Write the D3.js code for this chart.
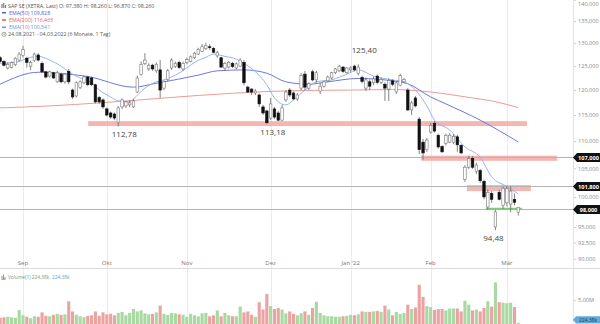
<!DOCTYPE html>
<html><head><meta charset="utf-8">
<script src="https://cdn.jsdelivr.net/npm/d3@7"></script>
<style>
html,body{margin:0;padding:0;background:#fff}
svg{display:block;font-family:"Open Sans","Liberation Sans",sans-serif}
</style></head>
<body><svg id="chart" width="600" height="324"></svg>
<script>
// ---------------- DATA ----------------
const dates = [
"2021-08-24","2021-08-25","2021-08-26","2021-08-27","2021-08-30","2021-08-31",
"2021-09-01","2021-09-02","2021-09-03","2021-09-06","2021-09-07","2021-09-08","2021-09-09","2021-09-10","2021-09-13","2021-09-14","2021-09-15","2021-09-16","2021-09-17","2021-09-20","2021-09-21","2021-09-22","2021-09-23","2021-09-24","2021-09-27","2021-09-28","2021-09-29","2021-09-30",
"2021-10-01","2021-10-04","2021-10-05","2021-10-06","2021-10-07","2021-10-08","2021-10-11","2021-10-12","2021-10-13","2021-10-14","2021-10-15","2021-10-18","2021-10-19","2021-10-20","2021-10-21","2021-10-22","2021-10-25","2021-10-26","2021-10-27","2021-10-28","2021-10-29",
"2021-11-01","2021-11-02","2021-11-03","2021-11-04","2021-11-05","2021-11-08","2021-11-09","2021-11-10","2021-11-11","2021-11-12","2021-11-15","2021-11-16","2021-11-17","2021-11-18","2021-11-19","2021-11-22","2021-11-23","2021-11-24","2021-11-25","2021-11-26","2021-11-29","2021-11-30",
"2021-12-01","2021-12-02","2021-12-03","2021-12-06","2021-12-07","2021-12-08","2021-12-09","2021-12-10","2021-12-13","2021-12-14","2021-12-15","2021-12-16","2021-12-17","2021-12-20","2021-12-21","2021-12-22","2021-12-23","2021-12-27","2021-12-28","2021-12-29","2021-12-30",
"2022-01-03","2022-01-04","2022-01-05","2022-01-06","2022-01-07","2022-01-10","2022-01-11","2022-01-12","2022-01-13","2022-01-14","2022-01-17","2022-01-18","2022-01-19","2022-01-20","2022-01-21","2022-01-24","2022-01-25","2022-01-26","2022-01-27","2022-01-28","2022-01-31",
"2022-02-01","2022-02-02","2022-02-03","2022-02-04","2022-02-07","2022-02-08","2022-02-09","2022-02-10","2022-02-11","2022-02-14","2022-02-15","2022-02-16","2022-02-17","2022-02-18","2022-02-21","2022-02-22","2022-02-23","2022-02-24","2022-02-25","2022-02-28",
"2022-03-01","2022-03-02","2022-03-03","2022-03-04"];

const open = [126.8,126.0,124.6,124.7,125.3,126.3,127.3,126.7,125.0,126.2,
127.4,125.6,123.8,122.9,123.6,121.7,123.3,121.7,123.9,120.0,
118.8,120.5,121.5,122.7,122.5,121.1,118.5,118.0,116.2,115.4,
115.2,113.6,116.6,116.8,117.0,116.6,119.6,123.2,125.6,124.4,
125.2,124.0,124.2,120.4,122.2,124.6,124.9,125.8,124.4,125.8,
126.0,126.8,127.6,128.2,128.8,129.2,128.8,127.2,126.8,124.6,
124.8,125.6,124.6,125.0,125.8,120.6,120.2,119.4,119.0,116.6,
115.8,114.4,116.2,115.4,114.0,118.0,120.0,119.4,118.2,120.4,
123.3,120.4,123.8,122.1,119.8,120.8,121.9,122.5,123.6,124.0,
124.8,123.6,124.2,125.0,123.5,122.6,120.4,121.7,121.5,122.9,
121.6,121.2,120.2,121.9,119.6,121.0,121.7,120.0,116.0,118.4,
114.2,109.8,108.4,111.7,113.4,111.1,109.0,109.6,109.8,109.8,
110.8,109.2,103.0,105.2,106.8,104.5,104.6,102.7,98.3,100.6,
95.0,100.8,98.6,99.0,98.8,99.6,97.38];
const high = [127.2,126.3,125.8,126.0,126.9,128.0,129.4,127.0,126.2,127.9,
127.8,126.0,124.0,124.0,123.8,124.0,123.6,123.5,124.4,120.3,
121.8,122.0,123.0,123.0,122.8,121.3,118.8,118.3,116.5,115.7,
115.5,116.8,118.3,117.8,118.0,118.2,123.0,126.0,127.8,125.6,
125.5,125.8,126.3,122.0,124.4,126.7,126.0,126.2,126.0,126.8,
127.3,128.1,129.0,129.8,130.1,129.8,129.1,128.3,127.0,125.9,
126.1,125.9,125.8,126.7,126.3,120.9,120.4,120.2,119.3,117.0,
116.0,118.4,116.6,115.8,117.0,120.0,120.4,119.7,119.4,123.5,
124.0,121.6,124.2,124.0,121.5,122.0,123.0,123.8,124.6,125.3,
125.0,124.8,125.0,125.3,125.4,123.0,122.6,122.2,122.8,123.2,
122.6,121.6,122.4,122.2,121.8,123.4,122.5,120.4,117.8,118.8,
114.6,110.4,110.6,113.5,113.8,111.4,109.2,111.4,111.5,111.3,
111.2,109.4,105.6,107.3,107.2,106.0,104.9,103.0,101.3,101.0,
97.8,101.2,101.8,101.9,101.8,100.6,98.26];
const low = [125.7,124.9,124.3,124.5,125.0,126.0,126.9,124.7,124.2,125.9,
126.0,123.5,122.4,122.6,122.3,121.5,121.4,121.3,121.2,118.2,
118.5,120.2,121.2,120.8,120.8,117.3,117.2,116.2,114.7,114.3,
114.0,112.78,116.2,116.4,116.5,116.4,119.4,123.0,125.2,124.0,
124.0,123.6,118.4,120.0,121.8,124.2,124.6,124.4,124.0,125.4,
125.8,126.5,127.4,128.0,128.5,128.5,127.8,126.8,124.6,124.0,
124.5,124.6,124.3,124.8,121.0,119.4,119.0,119.0,116.6,115.0,
113.18,114.0,114.2,113.8,113.8,117.6,118.6,118.0,117.8,120.0,
120.0,120.0,121.8,121.5,119.2,120.5,121.6,122.2,123.3,123.8,
123.6,123.4,123.8,123.9,123.0,121.4,119.8,120.0,121.0,121.2,
121.2,117.8,117.8,120.8,119.2,120.8,121.4,115.8,115.0,116.5,
107.6,106.6,108.0,111.4,111.6,108.6,107.8,109.2,109.6,109.4,
108.0,107.6,102.6,104.9,104.9,104.0,102.4,99.6,97.8,99.0,
94.48,99.4,98.0,98.4,97.4,98.6,96.87];
const close = [126.0,125.2,125.4,125.8,126.7,127.6,128.6,125.8,125.8,127.6,
126.3,123.8,122.7,123.8,122.5,123.6,121.7,123.3,121.7,118.6,
121.5,121.7,122.7,121.1,121.1,117.6,117.6,116.6,115.0,114.6,
114.4,116.4,118.0,117.6,117.4,117.8,122.5,125.4,126.3,125.2,
124.4,125.4,120.0,121.7,124.0,126.3,125.6,124.7,125.6,126.4,
127.0,127.8,128.6,129.2,129.4,129.0,128.0,128.0,124.8,125.6,
125.8,124.9,125.5,126.3,121.5,119.6,119.6,119.8,117.2,115.4,
113.5,117.2,114.6,114.0,116.4,119.6,119.0,118.2,119.0,123.0,
120.6,121.3,122.1,123.6,120.8,121.7,122.7,123.6,124.4,125.0,
123.9,124.6,124.6,124.2,124.8,121.8,122.1,120.8,122.3,121.6,
122.2,120.4,122.0,121.2,121.5,123.0,122.2,116.0,117.4,116.8,
108.4,107.8,110.2,113.0,111.9,108.9,108.0,111.1,111.1,110.9,
109.3,107.8,105.2,106.8,105.2,105.6,102.8,100.0,100.8,99.6,
97.5,99.6,101.5,101.4,101.0,99.1,98.26];
// volume in millions
const volume = [1.3,1.4,1.5,1.4,1.3,2.9,1.8,1.5,1.2,1.6,
1.5,2.4,1.7,1.6,1.9,2.1,1.9,2.0,4.7,2.6,
1.9,1.6,1.4,1.7,1.8,2.6,1.7,2.4,2.0,2.1,
1.8,2.3,2.5,1.8,2.3,3.1,2.6,2.8,2.2,2.0,
2.1,2.4,3.8,2.1,1.9,2.3,2.2,2.0,1.9,1.5,
2.1,1.8,1.6,2.2,2.3,1.6,1.8,2.8,1.6,2.3,
1.8,1.6,1.6,3.6,2.4,2.6,1.9,1.5,4.5,3.0,
6.2,3.7,3.1,3.3,3.0,2.2,2.6,2.1,1.8,2.2,
2.6,1.9,3.3,4.6,2.3,1.8,1.6,1.6,1.5,1.5,
1.6,1.7,1.9,1.8,2.0,2.6,2.5,2.5,2.6,2.7,
2.5,3.8,3.0,1.8,2.5,2.1,2.3,4.0,3.1,3.4,
8.1,5.6,3.7,3.5,2.9,3.1,3.1,2.8,3.2,3.2,
3.2,2.6,4.8,4.0,2.8,3.0,2.6,3.3,4.7,3.6,
8.6,4.5,4.4,4.3,4.4,3.5,0.22];

const ema200Idx = [0,13,26,35,52,70,79,92,103,107,113,118,123,129,136];
const ema200Val = [116.4,116.8,117.4,117.9,118.9,119.7,119.9,120.0,120.1,120.0,119.6,119.1,118.5,117.8,116.465];
const ema50Idx = [0,10,18,23,35,41,52,57,64,70,75,81,86,94,103,107,113,117,126,136];
const ema50Val = [121.2,123.7,123.3,122.8,120.6,121.4,123.1,124.0,124.2,123.5,121.7,121.2,121.7,122.4,121.9,121.3,118.6,117.2,114.0,109.828];
const ema10Idx = [0,4,8,10,13,16,18,21,24,26,29,31,34,35,38,41,43,46,49,51,54,56,59,62,64,67,70,72,75,77,80,83,87,91,94,98,103,106,109,112,114,118,122,126,129,133,136];
const ema10Val = [125.6,125.8,126.9,127.1,126.3,125.0,123.8,122.5,121.5,120.0,118.6,117.8,117.6,118.2,120.4,121.7,122.1,123.1,124.6,125.8,126.9,127.6,127.1,126.5,125.6,123.8,121.1,118.4,117.0,118.0,120.0,121.7,122.1,123.3,124.2,122.9,122.1,121.7,120.0,116.8,114.0,112.1,108.9,107.0,103.5,101.8,100.541];

const priceTicks = [140,135,130,125,120,115,110,105,100,95,92.5,90];
const volumeTicks = [5];
const monthLabels = ["Sep","Okt","Nov","Dez","Jan '22","Feb","Mär"];
const monthDates = ["2021-09-01","2021-10-01","2021-11-01","2021-12-01","2022-01-03","2022-02-01","2022-03-01"];

// levels: horizontal lines with label boxes
const levelValues = [107, 101.8, 98];
// zones (price bands), extents expressed in trading-day index units
const zoneLow = [112.85, 106.35, 101.0];
const zoneHigh = [113.8, 107.3, 102.05];
const zoneStart = [23.1, 110.5, 122.5];
const zoneEnd = [138.3, 146.2, 139.3];
const supportValue = [98];
const supportStart = [127.5];
const supportEnd = [137];

const annoText = ["112,78","113,18","125,40","94,48"];
const annoIdx = [31,70,94,130];
const annoPrice = [112.78,113.18,125.40,94.48];
const annoSide = [1,1,-1,1];

// ---------------- CHART ----------------
const W = 600, H = 324, axisX = 573, priceBottom = 268.5;
const svg = d3.select("#chart");
const fmt3 = v => v.toFixed(3).replace(".", ",");

const x = d3.scaleBand().domain(dates).range([-1.765, 520.2]).paddingInner(0.34).paddingOuter(0.17);
const cx = d => x(d) + x.bandwidth() / 2;
const xi = d3.scaleLinear().domain([0, dates.length - 1]).range([cx(dates[0]), cx(dates[dates.length - 1])]);
const y = d3.scaleLog().domain([90, 140]).range([258.7, -0.3]);
const yv = d3.scaleLinear().domain([0, 5]).range([324, 299.8]);

// month gridlines
svg.append("g").selectAll("line").data(monthDates).join("line")
  .attr("x1", d => Math.round(cx(d)) + 0.5).attr("x2", d => Math.round(cx(d)) + 0.5)
  .attr("y1", 0).attr("y2", H).attr("stroke", "#ebebeb").attr("stroke-width", 1);

// separator between panels
svg.append("line").attr("x1", 0).attr("x2", W).attr("y1", priceBottom).attr("y2", priceBottom)
  .attr("stroke", "#dcdcdc");

// zones
svg.append("g").selectAll("rect").data(zoneLow).join("rect")
  .attr("x", (d, i) => xi(zoneStart[i])).attr("width", (d, i) => xi(zoneEnd[i]) - xi(zoneStart[i]))
  .attr("y", (d, i) => y(zoneHigh[i])).attr("height", (d, i) => y(zoneLow[i]) - y(zoneHigh[i]))
  .attr("fill", "#f0aaa6").attr("opacity", 0.85);

// level lines
svg.append("g").selectAll("line").data(levelValues).join("line")
  .attr("x1", 0).attr("x2", axisX).attr("y1", d => Math.round(y(d)) + 0.5).attr("y2", d => Math.round(y(d)) + 0.5)
  .attr("stroke", "#b4b4b4").attr("stroke-width", 1);

// support line (green)
svg.append("g").selectAll("line").data(supportValue).join("line")
  .attr("x1", (d, i) => xi(supportStart[i])).attr("x2", (d, i) => xi(supportEnd[i]))
  .attr("y1", d => y(d)).attr("y2", d => y(d)).attr("stroke", "#7dcc74").attr("stroke-width", 2);

// EMA lines
const emaLine = (idx, val) => d3.line().curve(d3.curveMonotoneX).x((d, i) => xi(idx[i])).y((d, i) => y(val[i]))(val);
svg.append("path").attr("d", emaLine(ema200Idx, ema200Val)).attr("fill", "none").attr("stroke", "#ec9c96").attr("stroke-width", 1);
svg.append("path").attr("d", emaLine(ema50Idx, ema50Val)).attr("fill", "none").attr("stroke", "#6a78e0").attr("stroke-width", 1);
svg.append("path").attr("d", emaLine(ema10Idx, ema10Val)).attr("fill", "none").attr("stroke", "#98b2f2").attr("stroke-width", 1);

// candles
const candles = svg.append("g");
candles.selectAll("line").data(dates).join("line")
  .attr("x1", d => cx(d)).attr("x2", d => cx(d))
  .attr("y1", (d, i) => y(high[i])).attr("y2", (d, i) => y(low[i]))
  .attr("stroke", "#666").attr("stroke-width", 0.8);
candles.selectAll("rect").data(dates).join("rect")
  .attr("x", d => x(d)).attr("width", x.bandwidth())
  .attr("y", (d, i) => y(Math.max(open[i], close[i])))
  .attr("height", (d, i) => Math.max(0.8, Math.abs(y(open[i]) - y(close[i]))))
  .attr("fill", (d, i) => close[i] >= open[i] ? "#ffffff" : "#111111")
  .attr("stroke", (d, i) => close[i] >= open[i] ? "#777" : "#111")
  .attr("stroke-width", 0.6);

// volume bars
svg.append("g").selectAll("rect").data(dates).join("rect")
  .attr("x", d => x(d) - 0.3).attr("width", x.bandwidth() + 0.6)
  .attr("y", (d, i) => yv(volume[i])).attr("height", (d, i) => yv(0) - yv(volume[i]))
  .attr("fill", (d, i) => close[i] >= open[i] ? "#a9d8a2" : "#eba3a1");

// annotations
svg.append("g").selectAll("text").data(annoText).join("text")
  .attr("x", (d, i) => xi(annoIdx[i]) + (annoIdx[i] === 130 ? -2 : 6))
  .attr("y", (d, i) => y(annoPrice[i]) + (annoSide[i] > 0 ? 11 : -11))
  .attr("text-anchor", "middle").attr("font-size", 8).attr("fill", "#444").text(d => d);

// right price axis
const axisG = svg.append("g").attr("transform", `translate(${axisX},0)`)
  .call(d3.axisRight(y).tickValues(priceTicks).tickFormat(fmt3).tickSize(3).tickPadding(2));
axisG.select(".domain").remove();
axisG.selectAll("line").attr("stroke", "#cfcfcf");
axisG.selectAll("text").attr("font-size", 5.6).attr("fill", "#8a8a8a").attr("font-family", "Open Sans, sans-serif")
  .attr("dy", d => d === 140 ? "0.95em" : "0.32em");
svg.append("line").attr("x1", axisX + 0.5).attr("x2", axisX + 0.5).attr("y1", 0).attr("y2", H).attr("stroke", "#e2e2e2");

// volume axis
const vAxis = svg.append("g").attr("transform", `translate(${axisX},0)`)
  .call(d3.axisRight(yv).tickValues(volumeTicks).tickFormat(d => d.toFixed(2).replace(".", ",") + "M").tickSize(3).tickPadding(2));
vAxis.select(".domain").remove();
vAxis.selectAll("line").attr("stroke", "#cfcfcf");
vAxis.selectAll("text").attr("font-size", 5.6).attr("fill", "#8a8a8a").attr("font-family", "Open Sans, sans-serif");

// level label boxes
const lvl = svg.append("g").selectAll("g").data(levelValues).join("g")
  .attr("transform", d => `translate(${axisX},${Math.round(y(d)) + 0.5})`);
lvl.append("path").attr("d", "M0,0 L4,-4.5 L27,-4.5 L27,4.5 L4,4.5 Z").attr("fill", "#111");
lvl.append("text").attr("x", 15.5).attr("y", 2).attr("text-anchor", "middle").attr("font-size", 5.6)
  .attr("font-weight", "bold").attr("fill", "#fff").text(d => fmt3(d));

// x-axis month labels
svg.append("g").selectAll("text").data(monthLabels).join("text")
  .attr("x", (d, i) => cx(monthDates[i])).attr("y", 265).attr("text-anchor", "middle")
  .attr("font-size", 6).attr("fill", "#777").text(d => d);

// legend
const leg = svg.append("g").attr("font-size", 5.3);
leg.append("text").attr("x", 8).attr("y", 7.5).attr("fill", "#555")
  .text("SAP SE (XETRA, Last)  O: 97,380  H: 98,260  L: 96,870  C: 98,260");
leg.append("path").attr("d", "M2,4 v4 M3.8,3 v5 M5.6,5 v3").attr("stroke", "#666").attr("stroke-width", 1);
const legItems = [["EMA(50)", "109,828", "#5565dc"], ["EMA(200)", "116,465", "#e8615c"], ["EMA(10)", "100,541", "#6f95e8"]];
legItems.forEach((it, i) => {
  const yy = 14.5 + i * 7.3;
  leg.append("rect").attr("x", 2).attr("y", yy - 2.6).attr("width", 4).attr("height", 1.6).attr("fill", it[2]);
  leg.append("text").attr("x", 9).attr("y", yy).attr("fill", it[2]).text(it[0] + "  " + it[1]);
});
leg.append("circle").attr("cx", 4).attr("cy", 34.3).attr("r", 2.1).attr("fill", "none").attr("stroke", "#666").attr("stroke-width", 0.6);
leg.append("path").attr("d", "M4,33 v1.4 h1").attr("fill", "none").attr("stroke", "#666").attr("stroke-width", 0.5);
leg.append("text").attr("x", 8).attr("y", 36).attr("fill", "#555").text("24.08.2021 - 04.03.2022   (6 Monate, 1 Tag)");

// volume legend
const vl = svg.append("g").attr("font-size", 4.8);
vl.append("path").attr("d", "M2,279 v-3 M3.5,279 v-4.5 M5,279 v-2 M1.5,279.3 h4").attr("stroke", "#7a9a70").attr("stroke-width", 0.9);
vl.append("text").attr("x", 8).attr("y", 279).attr("fill", "#7a9a70").text("Volume(1)  224,38k");
vl.append("text").attr("x", 52).attr("y", 279).attr("fill", "#5a9fd0").text("224,38k");

// last volume label
const lastVol = volume[volume.length - 1];
const lv = svg.append("g").attr("transform", `translate(${axisX},${Math.min(yv(lastVol), H - 4.2)})`);
lv.append("path").attr("d", "M0,0 L3,-3.6 L27,-3.6 L27,3.6 L3,3.6 Z").attr("fill", "#63a9d9");
lv.append("text").attr("x", 15).attr("y", 1.8).attr("text-anchor", "middle").attr("font-size", 5).attr("fill", "#1d3f5a")
  .text("224,38k");
</script></body></html>
